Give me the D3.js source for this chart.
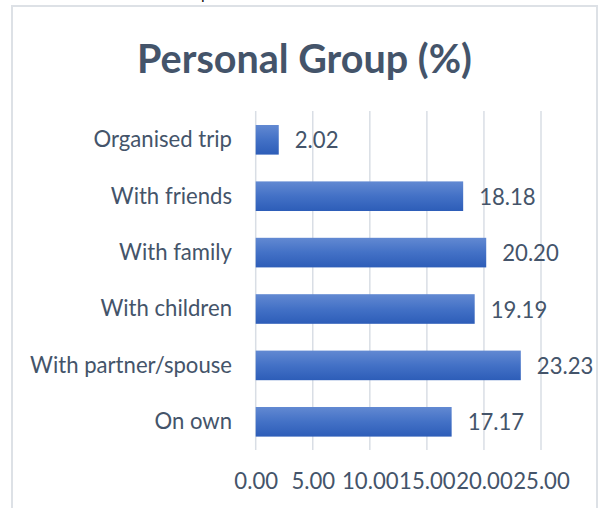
<!DOCTYPE html>
<html><head><meta charset="utf-8">
<script src="https://cdn.jsdelivr.net/npm/d3@7"></script>
<style>html,body{margin:0;padding:0;background:#fff;overflow:hidden}</style>
</head><body>
<svg id="c" width="603" height="508"></svg>
<script>
const categories = ["Organised trip","With friends","With family","With children","With partner/spouse","On own"];
const values = [2.02, 18.18, 20.20, 19.19, 23.23, 17.17];
const tickValues = [0, 5, 10, 15, 20, 25];
const titleText = "Personal Group (%)";

const svg = d3.select("#c");
const FONT = "Lato, 'Open Sans', sans-serif";
const slate = "#44546a";

// gradient
const defs = svg.append("defs");
const g = defs.append("linearGradient").attr("id","bg").attr("x1",0).attr("y1",0).attr("x2",0).attr("y2",1);
g.append("stop").attr("offset","0%").attr("stop-color","#6289d2");
g.append("stop").attr("offset","50%").attr("stop-color","#4371c6");
g.append("stop").attr("offset","100%").attr("stop-color","#2d5db8");

// cut-off text fragment at very top
svg.append("text").attr("x",201).attr("y",-1).attr("font-family",FONT).attr("font-size",16).attr("fill","#111").text("p");

// chart border
svg.append("rect").attr("x",12).attr("y",6).attr("width",585).attr("height",520)
  .attr("fill","#fff").attr("stroke","#dde1e6").attr("stroke-width",2);

const x = d3.scaleLinear().domain([0,25]).range([255.7,541]);
const y = d3.scaleBand().domain(categories).range([111.6,450]).paddingInner(0.475).paddingOuter(0.2375);

// gridlines
svg.append("g").selectAll("line").data(tickValues).join("line")
  .attr("x1",d=>x(d)).attr("x2",d=>x(d)).attr("y1",111).attr("y2",450)
  .attr("stroke","#d9dee5").attr("stroke-width",1.5);

// bars
svg.append("g").selectAll("rect").data(values).join("rect")
  .attr("x",x(0)).attr("y",(d,i)=>y(categories[i]))
  .attr("width",d=>x(d)-x(0)).attr("height",y.bandwidth())
  .attr("fill","url(#bg)");

// fit helper
function fit(sel, target){
  const w = sel.node().getComputedTextLength();
  const fs = parseFloat(sel.attr("font-size"));
  sel.attr("font-size", fs*target/w);
}

// title
const t = svg.append("text").attr("x",304.5).attr("y",72.5).attr("text-anchor","middle")
  .attr("font-family",FONT).attr("font-weight","bold").attr("font-size",36).attr("fill",slate).text(titleText);
fit(t,335);

// category labels
const catG = svg.append("g");
const lbls = catG.selectAll("text").data(categories).join("text")
  .attr("x",232).attr("y",d=>y(d)+y.bandwidth()/2+7.3).attr("text-anchor","end")
  .attr("font-family",FONT).attr("font-size",20).attr("fill",slate).text(d=>d);
const longest = lbls.filter(d=>d==="With partner/spouse");
const w0 = longest.node().getComputedTextLength();
const catFs = 20*202/w0;
lbls.attr("font-size",catFs);

// value labels
svg.append("g").selectAll("text").data(values).join("text")
  .attr("x",d=>x(d)+16).attr("y",(d,i)=>y(categories[i])+y.bandwidth()/2+8.5)
  .attr("font-family",FONT).attr("font-size",catFs).attr("fill",slate).text(d=>d.toFixed(2));

// axis
const axis = d3.axisBottom(x).tickValues(tickValues).tickFormat(d=>d.toFixed(2)).tickSize(0).tickPadding(0);
const ag = svg.append("g").attr("transform","translate(0,0)").call(axis);
ag.select(".domain").remove();
ag.selectAll("text").attr("y",488.5).attr("dy",null).attr("font-family",FONT).attr("font-size",catFs).attr("fill",slate);
</script>
</body></html>
